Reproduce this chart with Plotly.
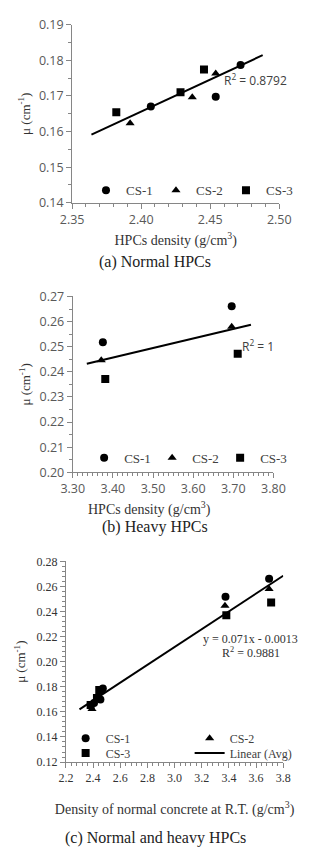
import plotly.graph_objects as go

# ---------------- data ----------------
series_names = ["CS-1", "CS-2", "CS-3"]
series_symbols = ["circle", "triangle-up", "square"]

normal_cs1_density = [2.407, 2.454, 2.472]
normal_cs1_mu = [0.1670, 0.1698, 0.1787]
normal_cs2_density = [2.392, 2.437, 2.454]
normal_cs2_mu = [0.1623, 0.1696, 0.1763]
normal_cs3_density = [2.382, 2.4285, 2.4455]
normal_cs3_mu = [0.1654, 0.1710, 0.1774]

heavy_cs1_density = [3.375, 3.696]
heavy_cs1_mu = [0.2518, 0.2661]
heavy_cs2_density = [3.371, 3.696]
heavy_cs2_mu = [0.2446, 0.2579]
heavy_cs3_density = [3.381, 3.711]
heavy_cs3_mu = [0.2371, 0.2472]

# trend lines: x extent and [slope, intercept]
trend_a_x = [2.364, 2.488]
trend_a_coef = [0.180, -0.2664]
trend_b_x = [3.335, 3.744]
trend_b_coef = [0.038, 0.1165]
trend_c_x = [2.30, 3.80]
trend_c_coef = [0.071, -0.0013]

normal_x = [normal_cs1_density, normal_cs2_density, normal_cs3_density]
normal_y = [normal_cs1_mu, normal_cs2_mu, normal_cs3_mu]
heavy_x = [heavy_cs1_density, heavy_cs2_density, heavy_cs3_density]
heavy_y = [heavy_cs1_mu, heavy_cs2_mu, heavy_cs3_mu]

W, H = 319, 856
SERIF = "Liberation Serif"
SANS = "Open Sans"
AXC = "#868686"
TXT = "#404040"


def line_y(xs, coef):
    return [coef[0] * x + coef[1] for x in xs]


def px_x(p):
    return p / W


def px_y(p):
    return 1 - p / H


fig = go.Figure()

# ---- (a) normal HPCs ----
for i in range(3):
    fig.add_trace(go.Scatter(
        x=normal_x[i], y=normal_y[i], mode="markers", name=series_names[i],
        marker=dict(symbol=series_symbols[i], size=8, color="black"),
        xaxis="x", yaxis="y", legend="legend"))
fig.add_trace(go.Scatter(
    x=trend_a_x, y=line_y(trend_a_x, trend_a_coef), mode="lines",
    line=dict(color="black", width=2), showlegend=False, xaxis="x", yaxis="y"))

# ---- (b) heavy HPCs ----
for i in range(3):
    fig.add_trace(go.Scatter(
        x=heavy_x[i], y=heavy_y[i], mode="markers", name=series_names[i],
        marker=dict(symbol=series_symbols[i], size=8, color="black"),
        xaxis="x2", yaxis="y2", legend="legend2"))
fig.add_trace(go.Scatter(
    x=trend_b_x, y=line_y(trend_b_x, trend_b_coef), mode="lines",
    line=dict(color="black", width=2), showlegend=False, xaxis="x2", yaxis="y2"))

# ---- (c) all ----
legend_c = ["legend3", "legend3", "legend4"]
for i in range(3):
    fig.add_trace(go.Scatter(
        x=normal_x[i] + heavy_x[i], y=normal_y[i] + heavy_y[i], mode="markers",
        name=series_names[i],
        marker=dict(symbol=series_symbols[i], size=8, color="black"),
        xaxis="x3", yaxis="y3", legend=legend_c[i]))
fig.add_trace(go.Scatter(
    x=trend_c_x, y=line_y(trend_c_x, trend_c_coef), mode="lines",
    name="Linear (Avg)", line=dict(color="black", width=2),
    xaxis="x3", yaxis="y3", legend="legend4"))


def axis(domain, rng, dtick, tick0, fmt, minor, font, anchor, title=None,
         standoff=None, title_size=14):
    d = dict(domain=domain, range=rng, dtick=dtick, tick0=tick0, tickformat=fmt,
             ticks="outside", ticklen=5, tickcolor=AXC, tickwidth=1,
             showline=True, linecolor=AXC, linewidth=1, showgrid=False,
             zeroline=False, anchor=anchor, tickfont=font,
             minor=dict(ticks="outside", dtick=minor, ticklen=3,
                        tickcolor=AXC, showgrid=False))
    if title is not None:
        d["title"] = dict(text=title, standoff=standoff,
                          font=dict(family=SERIF, size=title_size, color="#333"))
    return d


sans_tick = dict(family=SANS, size=12.5, color="#595959")
serif_tick = dict(family=SERIF, size=12, color="#333")

fig.update_layout(
    width=W, height=H, margin=dict(l=0, r=0, t=0, b=0),
    paper_bgcolor="white", plot_bgcolor="white",
    xaxis=axis([px_x(65), px_x(289)], [2.35, 2.50], 0.05, 2.35, ".2f", 0.01,
               sans_tick, "y", "HPCs density (g/cm<sup>3</sup>)", 8),
    yaxis=axis([px_y(197.7), px_y(16)], [0.14, 0.19], 0.01, 0.14, ".2f", 0.005,
               sans_tick, "x", "μ (cm<sup>-1</sup>)", 5, 13),
    xaxis2=axis([px_x(65.7), px_x(282.7)], [3.30, 3.80], 0.1, 3.30, ".2f", 0.0125,
                sans_tick, "y2"),
    yaxis2=axis([px_y(472.7), px_y(293.3)], [0.20, 0.27], 0.01, 0.20, ".2f", 0.005,
                sans_tick, "x2", "μ (cm<sup>-1</sup>)", 5, 13),
    xaxis3=axis([px_x(58.3), px_x(293.3)], [2.2, 3.8], 0.2, 2.2, ".1f", 0.04,
                serif_tick, "y3", "Density of normal concrete at R.T. (g/cm<sup>3</sup>)", 19),
    yaxis3=axis([px_y(768.3), px_y(563.5)], [0.12, 0.28], 0.02, 0.12, ".2f", 0.004,
                serif_tick, "x3", "μ (cm<sup>-1</sup>)", 7, 13),
    legend=dict(orientation="h", x=px_x(100 - 20), y=px_y(185), xanchor="left",
                yanchor="middle", entrywidth=25, entrywidthmode="pixels",
                bgcolor="rgba(0,0,0,0)", font=dict(family=SERIF, size=13, color=TXT)),
    legend2=dict(orientation="h", x=px_x(98 - 20), y=px_y(458), xanchor="left",
                 yanchor="middle", entrywidth=23, entrywidthmode="pixels",
                 bgcolor="rgba(0,0,0,0)", font=dict(family=SERIF, size=13, color=TXT)),
    legend3=dict(orientation="h", x=px_x(78 - 20), y=px_y(744), xanchor="left",
                 yanchor="middle", entrywidth=79, entrywidthmode="pixels",
                 bgcolor="rgba(0,0,0,0)", font=dict(family=SERIF, size=12, color=TXT)),
    legend4=dict(orientation="h", x=px_x(78 - 20), y=px_y(759), xanchor="left",
                 yanchor="middle", entrywidth=79, entrywidthmode="pixels",
                 bgcolor="rgba(0,0,0,0)", font=dict(family=SERIF, size=12, color=TXT)),
)

annotations = [
    dict(text="R<sup>2</sup> = 0.8792", x=2.4587, y=0.1746, xref="x", yref="y",
         xanchor="left", yanchor="middle", showarrow=False,
         font=dict(family=SANS, size=12, color="#404040")),
    dict(text="R<sup>2</sup> = 1", x=3.7178, y=0.2502, xref="x2", yref="y2",
         xanchor="left", yanchor="middle", showarrow=False,
         font=dict(family=SANS, size=12, color="#404040")),
    dict(text="y = 0.071x - 0.0013", x=3.559, y=0.2179, xref="x3", yref="y3",
         xanchor="center", yanchor="middle", showarrow=False,
         font=dict(family=SERIF, size=12, color="#333")),
    dict(text="R<sup>2</sup> = 0.9881", x=3.559, y=0.2070, xref="x3", yref="y3",
         xanchor="center", yanchor="middle", showarrow=False,
         font=dict(family=SERIF, size=12, color="#333")),
    dict(text="HPCs density (g/cm<sup>3</sup>)", x=px_x(149), y=px_y(510),
         xref="paper", yref="paper", xanchor="center", yanchor="middle",
         showarrow=False, font=dict(family=SERIF, size=14, color="#333")),
    dict(text="(a) Normal HPCs", x=px_x(155), y=px_y(258), xref="paper", yref="paper",
         xanchor="center", yanchor="middle", showarrow=False,
         font=dict(family=SERIF, size=16, color="#222")),
    dict(text="(b) Heavy HPCs", x=px_x(155), y=px_y(528), xref="paper", yref="paper",
         xanchor="center", yanchor="middle", showarrow=False,
         font=dict(family=SERIF, size=16, color="#222")),
    dict(text="(c) Normal and heavy HPCs", x=px_x(155), y=px_y(846), xref="paper",
         yref="paper", xanchor="center", yanchor="middle", showarrow=False,
         font=dict(family=SERIF, size=16, color="#222")),
]
fig.update_layout(annotations=annotations)

fig.write_html("out.html")
